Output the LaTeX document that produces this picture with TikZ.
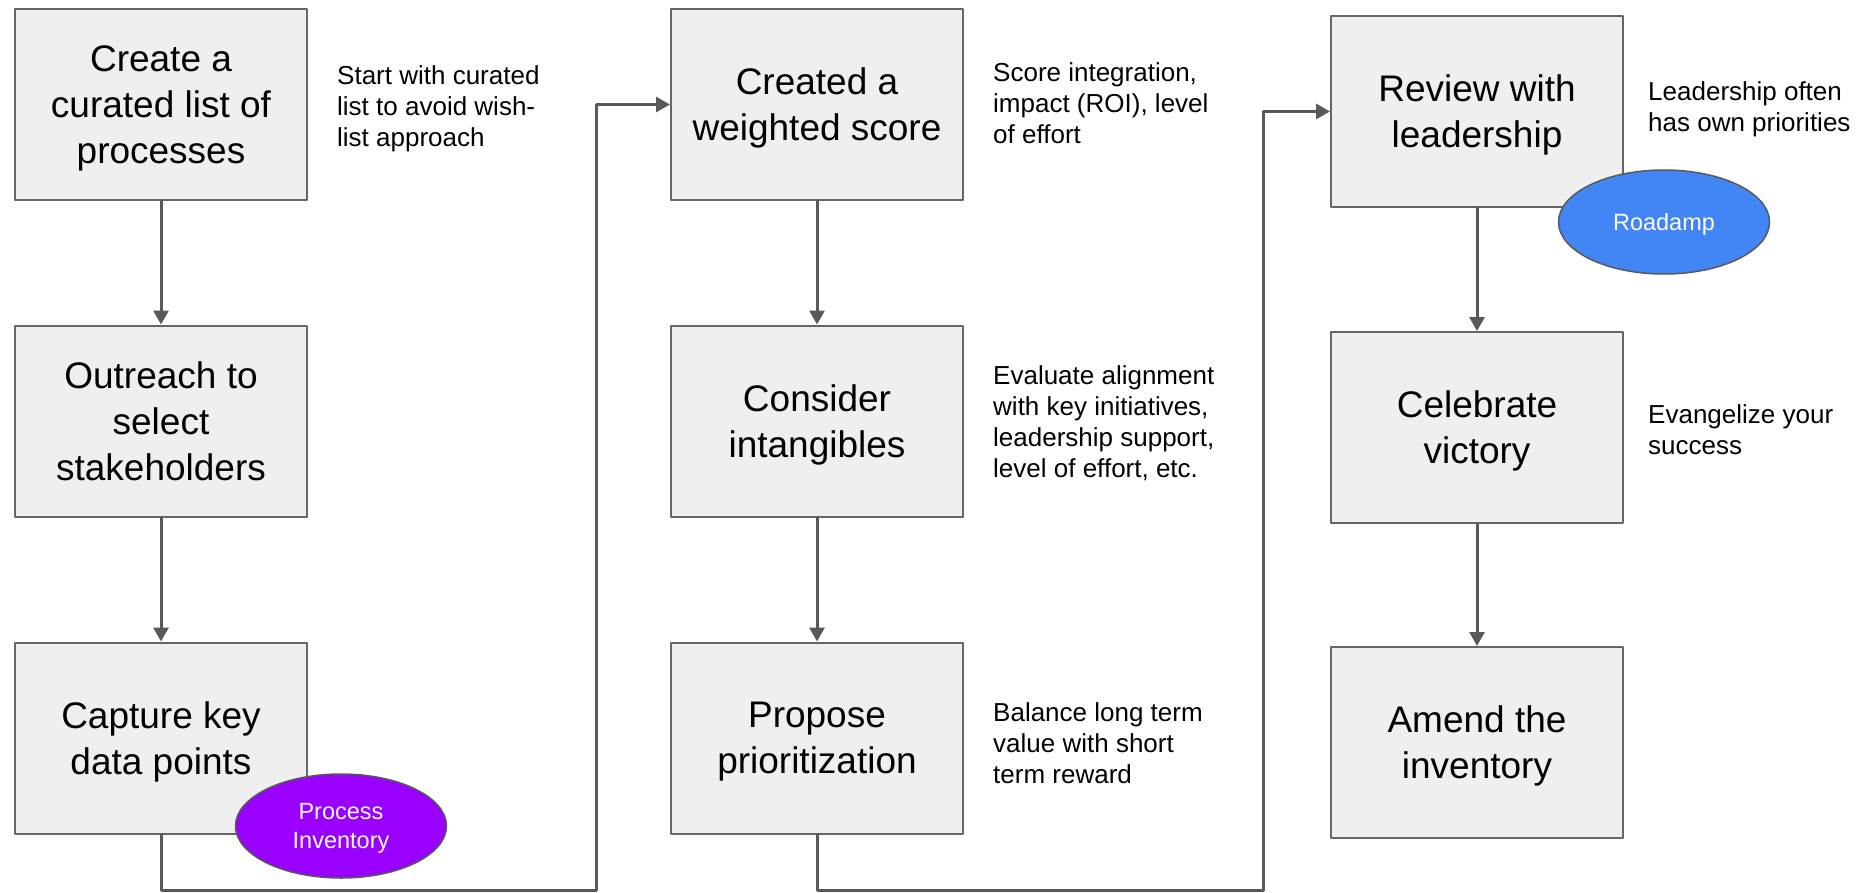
\documentclass[tikz,border=0pt]{standalone}
\usepackage{fontspec}
\setmainfont{Liberation Sans}
\usepackage{xcolor}
\usetikzlibrary{arrows}
\usetikzlibrary{arrows.meta,shapes.geometric,calc}
\definecolor{boxfill}{HTML}{EFEFEF}
\definecolor{boxline}{HTML}{666666}
\definecolor{flowline}{HTML}{595959}
\definecolor{inventorypurple}{HTML}{9900FF}
\definecolor{roadmapblue}{HTML}{4285F4}

\begin{document}
\begin{tikzpicture}[line cap=round,line join=round,>={Triangle[length=14pt,width=15pt]},x=1pt,y=-1pt,
        stepbox/.style={draw=boxline,line width=2pt,fill=boxfill,minimum width=292pt,minimum height=191pt,inner sep=0pt,text depth=0pt,align=center,font=\fontsize{37}{46}\selectfont},
        note/.style={anchor=west,align=left,inner sep=0pt,text depth=0pt,font=\fontsize{26}{31}\selectfont},
        badge/.style={ellipse,draw=flowline,line width=1.5pt,minimum width=211pt,minimum height=104pt,inner sep=0pt,text depth=0pt,align=center,text=white,font=\fontsize{23.5}{29.5}\selectfont},
        flow/.style={draw=flowline,line width=3pt}]
                \useasboundingbox (0,0) rectangle (1865,892);
                % first column
                \node [stepbox] (curate) at (161,104.5) {Create a\\curated list of\\processes};
                \node [stepbox] (outreach) at (161,421) {Outreach to\\select\\stakeholders};
                \node [stepbox] (capture) at (161,738) {Capture key\\data points};
                % second column
                \node [stepbox] (score) at (817,104.5) {Created a\\weighted score};
                \node [stepbox] (intangible) at (817,421) {Consider\\intangibles};
                \node [stepbox] (propose) at (817,738) {Propose\\prioritization};
                % third column
                \node [stepbox] (review) at (1477,111.5) {Review with\\leadership};
                \node [stepbox] (celebrate) at (1477,427.5) {Celebrate\\victory};
                \node [stepbox] (amend) at (1477,742.5) {Amend the\\inventory};
                % side notes
                \node [note] (curatenote) at (337,106) {Start with curated\\list to avoid wish-\\list approach};
                \node [note] (scorenote) at (993,103) {Score integration,\\impact (ROI), level\\of effort};
                \node [note] (intangiblenote) at (993,422) {Evaluate alignment\\with key initiatives,\\leadership support,\\level of effort, etc.};
                \node [note] (proposenote) at (993,743) {Balance long term\\value with short\\term reward};
                \node [note] (reviewnote) at (1648,107) {Leadership often\\has own priorities};
                \node [note] (celebratenote) at (1648,430) {Evangelize your\\success};
                % connectors
                \coordinate (turnA) at (596,890);
                \coordinate (turnB) at (1263,890);
                \draw [flow,->] (curate) -- (outreach);
                \draw [flow,->] (outreach) -- (capture);
                \draw [flow,->] (score) -- (intangible);
                \draw [flow,->] (intangible) -- (propose);
                \draw [flow,->] (review) -- (celebrate);
                \draw [flow,->] (celebrate) -- (amend);
                \draw [flow,->] (capture.south) |- (turnA) |- (score.west);
                \draw [flow,->] (propose.south) |- (turnB) |- (review.west);
                % tags
                \node [badge,fill=inventorypurple] (inventory) at (341,826) {Process\\Inventory};
                \node [badge,fill=roadmapblue] (roadmap) at (1664,222) {Roadamp};
\end{tikzpicture}
\end{document}
